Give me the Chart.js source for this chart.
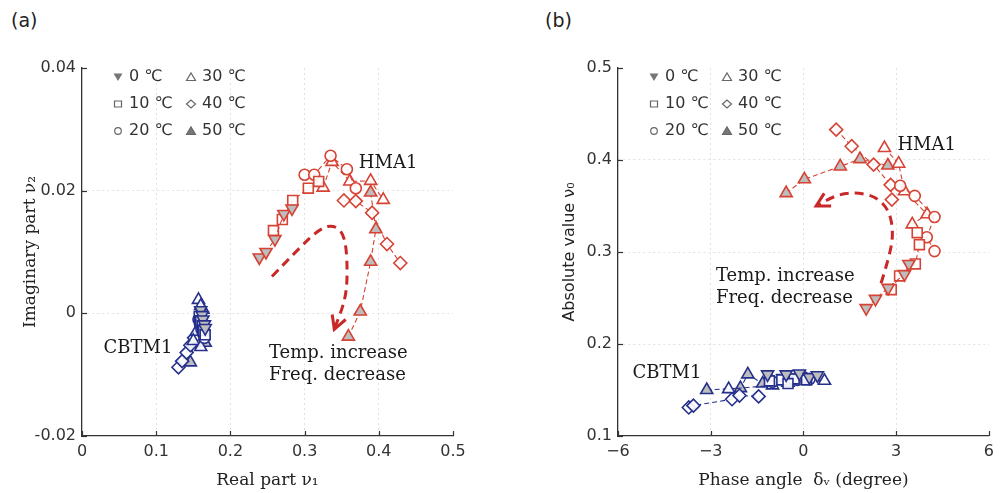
<!DOCTYPE html>
<html>
<head>
<meta charset="utf-8">
<script src="https://cdn.jsdelivr.net/npm/chart.js@4.4.0/dist/chart.umd.min.js"></script>
<style>
  html, body { margin: 0; padding: 0; background: #fff; }
  #wrap { position: relative; width: 1000px; height: 493px; overflow: hidden; }
  .panel { position: absolute; top: 0; width: 500px; height: 493px; }
  .tag { position: absolute; top: 9px; font: 19px "DejaVu Sans", sans-serif; color: #222; }
</style>
</head>
<body>
<div id="wrap">
  <div class="tag" style="left:11px">(a)</div>
  <div class="tag" style="left:545px">(b)</div>
  <div class="panel" style="left:0"><canvas id="chartA" width="500" height="493"></canvas></div>
  <div class="panel" style="left:500px"><canvas id="chartB" width="500" height="493"></canvas></div>
</div>
<script>
// temperatures (legend)
const tempLabels = ['0 ℃', '10 ℃', '20 ℃', '30 ℃', '40 ℃', '50 ℃'];

// panel (a): [real part v1, imaginary part v2]
const hmaA_0C  = [[0.239, 0.0091], [0.248, 0.0100], [0.260, 0.0121], [0.272, 0.0162], [0.283, 0.0171]];
const hmaA_10C = [[0.258, 0.0135], [0.270, 0.0153], [0.284, 0.0184], [0.305, 0.0204], [0.319, 0.0215]];
const hmaA_20C = [[0.300, 0.0226], [0.313, 0.0226], [0.335, 0.0257], [0.357, 0.0235], [0.369, 0.0204]];
const hmaA_30C = [[0.325, 0.0205], [0.337, 0.0247], [0.361, 0.0215], [0.389, 0.0216], [0.406, 0.0185]];
const hmaA_40C = [[0.353, 0.0184], [0.369, 0.0183], [0.391, 0.0164], [0.411, 0.0113], [0.429, 0.0082]];
const hmaA_50C = [[0.389, 0.0197], [0.396, 0.0137], [0.389, 0.0084], [0.375, 0.0003], [0.359, -0.0038]];

const cbtA_0C  = [[0.160, 0.0005], [0.162, -0.0003], [0.163, -0.0010], [0.165, -0.0018], [0.166, -0.0024]];
const cbtA_10C = [[0.158, -0.0005], [0.160, -0.0012], [0.162, -0.0020], [0.164, -0.0028], [0.166, -0.0035]];
const cbtA_20C = [[0.157, -0.0010], [0.159, -0.0018], [0.161, -0.0026], [0.163, -0.0033], [0.165, -0.0040]];
const cbtA_30C = [[0.157, 0.0022], [0.160, 0.0012], [0.154, -0.0030], [0.150, -0.0045], [0.160, -0.0055]];
const cbtA_40C = [[0.130, -0.0088], [0.135, -0.0078], [0.141, -0.0064], [0.146, -0.0052], [0.151, -0.0040]];
const cbtA_50C = [[0.146, -0.0080], [0.150, -0.0050], [0.166, -0.0048], [0.164, -0.0024], [0.163, 0.0006]];

// panel (b): [phase angle, absolute value v0]
const hmaB_0C  = [[2.03, 0.239], [2.33, 0.249], [2.74, 0.261], [3.27, 0.276], [3.41, 0.287]];
const hmaB_10C = [[2.84, 0.259], [3.11, 0.274], [3.62, 0.287], [3.75, 0.308], [3.68, 0.321]];
const hmaB_20C = [[3.13, 0.372], [3.60, 0.361], [4.24, 0.338], [3.99, 0.316], [4.24, 0.301]];
const hmaB_30C = [[2.62, 0.413], [3.08, 0.396], [3.27, 0.366], [4.00, 0.341], [3.52, 0.330]];
const hmaB_40C = [[1.06, 0.433], [1.56, 0.415], [2.27, 0.395], [2.82, 0.373], [2.86, 0.357]];
const hmaB_50C = [[-0.56, 0.364], [0.03, 0.379], [1.19, 0.393], [1.83, 0.401], [2.73, 0.394]];

const cbtB_0C  = [[-1.16, 0.167], [-0.56, 0.167], [-0.13, 0.168], [0.19, 0.164], [0.45, 0.166]];
const cbtB_10C = [[-1.10, 0.160], [-0.70, 0.161], [-0.30, 0.162], [0.10, 0.161], [-0.50, 0.157]];
const cbtB_20C = [[-1.00, 0.159], [-0.50, 0.160], [-0.20, 0.161], [0.20, 0.162], [0.00, 0.164]];
const cbtB_30C = [[-2.42, 0.151], [-1.00, 0.155], [-0.50, 0.158], [0.00, 0.161], [0.68, 0.160]];
const cbtB_40C = [[-3.71, 0.131], [-3.56, 0.133], [-2.31, 0.140], [-2.07, 0.144], [-1.45, 0.143]];
const cbtB_50C = [[-3.13, 0.150], [-2.04, 0.152], [-1.80, 0.167], [-1.32, 0.157], [-0.02, 0.162]];

// trend arrows (data units)
const arrowA = [[0.256, 0.0060], [0.290, 0.0103], [0.321, 0.0139], [0.341, 0.0144], [0.355, 0.0125], [0.358, 0.0065], [0.355, 0.0022], [0.340, -0.0026]];
const arrowB = [[2.51, 0.266], [2.78, 0.295], [2.91, 0.320], [2.78, 0.345], [2.35, 0.360], [1.71, 0.365], [1.06, 0.362], [0.41, 0.350]];

const RED = 'rgb(214, 66, 52)';
const BLUE = 'rgb(38, 48, 140)';
const GRAY_FILL = '#bdbdbd';

const markers = [
  { style: 'triangle', rot: 180, filled: true, r: 7 },
  { style: 'rect', rot: 0, filled: false, r: 7 },
  { style: 'circle', rot: 0, filled: false, r: 5.5 },
  { style: 'triangle', rot: 0, filled: false, r: 7 },
  { style: 'rectRot', rot: 0, filled: false, r: 6.5 },
  { style: 'triangle', rot: 0, filled: true, r: 7 }
];

function makeSets(seriesList, color) {
  return seriesList.map((pts, i) => {
    const m = markers[i];
    return {
      label: tempLabels[i],
      data: pts.map(p => ({ x: p[0], y: p[1] })),
      showLine: true,
      borderColor: color,
      borderWidth: 1.1,
      borderDash: [5, 3],
      pointStyle: m.style,
      pointRotation: m.rot,
      pointRadius: m.r,
      pointHoverRadius: m.r,
      pointBorderWidth: 1.6,
      pointBorderColor: color,
      pointBackgroundColor: m.filled ? GRAY_FILL : 'rgba(255,255,255,0.9)',
      clip: false
    };
  });
}

function drawLegendSymbol(ctx, i, x, y) {
  ctx.save();
  ctx.lineWidth = 1.2;
  ctx.strokeStyle = '#666';
  ctx.fillStyle = '#777';
  ctx.beginPath();
  if (i === 0) { ctx.moveTo(x - 4.5, y - 3.5); ctx.lineTo(x + 4.5, y - 3.5); ctx.lineTo(x, y + 4); ctx.closePath(); ctx.fill(); }
  else if (i === 1) { ctx.rect(x - 3.5, y - 3, 7, 6); ctx.stroke(); }
  else if (i === 2) { ctx.arc(x, y, 3.3, 0, Math.PI * 2); ctx.stroke(); }
  else if (i === 3) { ctx.moveTo(x - 4.5, y + 3.5); ctx.lineTo(x + 4.5, y + 3.5); ctx.lineTo(x, y - 4); ctx.closePath(); ctx.stroke(); }
  else if (i === 4) { ctx.moveTo(x - 4.5, y); ctx.lineTo(x, y - 4); ctx.lineTo(x + 4.5, y); ctx.lineTo(x, y + 4); ctx.closePath(); ctx.stroke(); }
  else { ctx.moveTo(x - 4.5, y + 3.5); ctx.lineTo(x + 4.5, y + 3.5); ctx.lineTo(x, y - 4); ctx.closePath(); ctx.fill(); ctx.stroke(); }
  ctx.restore();
}

function decorPlugin(id, arrowPts, notes) {
  return {
    id: id,
    afterDraw(chart) {
      const ctx = chart.ctx;
      const xs = chart.scales.x, ys = chart.scales.y;
      const area = chart.chartArea;

      // inward tick marks
      ctx.save();
      ctx.strokeStyle = '#333';
      ctx.lineWidth = 1.2;
      xs.ticks.forEach(t => {
        const px = Math.round(xs.getPixelForValue(t.value)) + 0.5;
        ctx.beginPath(); ctx.moveTo(px, area.bottom); ctx.lineTo(px, area.bottom - 5); ctx.stroke();
      });
      ys.ticks.forEach(t => {
        const py = Math.round(ys.getPixelForValue(t.value)) + 0.5;
        ctx.beginPath(); ctx.moveTo(area.left, py); ctx.lineTo(area.left + 5, py); ctx.stroke();
      });
      ctx.restore();

      // dashed trend arrow
      const p = arrowPts.map(a => [xs.getPixelForValue(a[0]), ys.getPixelForValue(a[1])]);
      ctx.save();
      ctx.strokeStyle = 'rgb(200, 40, 40)';
      ctx.lineWidth = 3;
      ctx.setLineDash([9, 6]);
      ctx.beginPath();
      ctx.moveTo(p[0][0], p[0][1]);
      for (let i = 1; i < p.length - 1; i++) {
        const mx = (p[i][0] + p[i + 1][0]) / 2, my = (p[i][1] + p[i + 1][1]) / 2;
        ctx.quadraticCurveTo(p[i][0], p[i][1], mx, my);
      }
      const end = p[p.length - 1], prev = p[p.length - 2];
      ctx.lineTo(end[0], end[1]);
      ctx.stroke();
      ctx.setLineDash([]);
      const ang = Math.atan2(end[1] - prev[1], end[0] - prev[0]);
      ctx.beginPath();
      ctx.moveTo(end[0] - 15 * Math.cos(ang - 0.5), end[1] - 15 * Math.sin(ang - 0.5));
      ctx.lineTo(end[0], end[1]);
      ctx.lineTo(end[0] - 15 * Math.cos(ang + 0.5), end[1] - 15 * Math.sin(ang + 0.5));
      ctx.stroke();
      ctx.restore();

      // text notes
      ctx.save();
      ctx.fillStyle = '#1a1a1a';
      ctx.font = '18px "DejaVu Serif", serif';
      ctx.textBaseline = 'middle';
      ctx.textAlign = 'left';
      notes.forEach(n => ctx.fillText(n.text, xs.getPixelForValue(n.x), ys.getPixelForValue(n.y)));
      ctx.restore();

      // legend (two columns)
      ctx.save();
      ctx.font = '16px "DejaVu Sans", sans-serif';
      ctx.fillStyle = '#333';
      ctx.textBaseline = 'middle';
      const rowsY = [area.top + 9, area.top + 36, area.top + 63];
      tempLabels.forEach((lab, i) => {
        const col = Math.floor(i / 3), row = i % 3;
        const sx = area.left + (col === 0 ? 36 : 109);
        const y = rowsY[row];
        drawLegendSymbol(ctx, i, sx, y);
        ctx.fillText(lab, sx + 11, y);
      });
      ctx.restore();
    }
  };
}

function gridColor(c) {
  const n = c.scale.ticks.length;
  return (c.index > 0 && c.index < n - 1) ? '#e2e2e2' : 'rgba(0,0,0,0)';
}

function baseScale(min, max, step, titleText, titleFont, fmt, fitFn) {
  return {
    type: 'linear',
    min: min, max: max,
    ticks: {
      stepSize: step,
      color: '#333',
      font: { family: 'DejaVu Sans', size: 16 },
      padding: 6,
      callback: fmt
    },
    grid: { color: gridColor, drawTicks: false, lineWidth: 1 },
    border: { display: true, color: '#333', width: 1.3, dash: [2, 3] },
    title: { display: true, text: titleText, color: '#222', font: titleFont, padding: 0 },
    afterFit: fitFn
  };
}

const serifTitle = { family: 'DejaVu Serif', size: 17 };
const sansTitle = { family: 'DejaVu Sans', size: 16 };

const chartA = new Chart(document.getElementById('chartA').getContext('2d'), {
  type: 'scatter',
  data: { datasets: makeSets([hmaA_0C, hmaA_10C, hmaA_20C, hmaA_30C, hmaA_40C, hmaA_50C], RED)
    .concat(makeSets([cbtA_0C, cbtA_10C, cbtA_20C, cbtA_30C, cbtA_40C, cbtA_50C], BLUE)) },
  options: {
    responsive: false,
    devicePixelRatio: 1,
    animation: false,
    layout: { padding: { left: 20, right: 47, top: 68, bottom: 2 } },
    plugins: { legend: { display: false }, tooltip: { enabled: false } },
    scales: {
      x: baseScale(0, 0.5, 0.1, 'Real part ν₁', serifTitle,
        v => String(Math.round(v * 10) / 10), s => { s.height = 55; }),
      y: baseScale(-0.02, 0.04, 0.02, 'Imaginary part ν₂', serifTitle,
        v => String(Math.round(v * 100) / 100), s => { s.width = 62; })
    }
  },
  plugins: [decorPlugin('decorA', arrowA, [
    { text: 'HMA1', x: 0.373, y: 0.0245 },
    { text: 'CBTM1', x: 0.029, y: -0.0057 },
    { text: 'Temp. increase', x: 0.252, y: -0.0065 },
    { text: 'Freq. decrease', x: 0.252, y: -0.0101 }
  ])]
});

const chartB = new Chart(document.getElementById('chartB').getContext('2d'), {
  type: 'scatter',
  data: { datasets: makeSets([hmaB_0C, hmaB_10C, hmaB_20C, hmaB_30C, hmaB_40C, hmaB_50C], RED)
    .concat(makeSets([cbtB_0C, cbtB_10C, cbtB_20C, cbtB_30C, cbtB_40C, cbtB_50C], BLUE)) },
  options: {
    responsive: false,
    devicePixelRatio: 1,
    animation: false,
    layout: { padding: { left: 60, right: 11, top: 68, bottom: 2 } },
    plugins: { legend: { display: false }, tooltip: { enabled: false } },
    scales: {
      x: baseScale(-6, 6, 3, 'Phase angle  δᵥ (degree)', serifTitle,
        v => (v < 0 ? '−' + Math.abs(v) : String(v)), s => { s.height = 55; }),
      y: baseScale(0.1, 0.5, 0.1, 'Absolute value ν₀', sansTitle,
        v => String(Math.round(v * 10) / 10), s => { s.width = 58; })
    }
  },
  plugins: [decorPlugin('decorB', arrowB, [
    { text: 'HMA1', x: 3.04, y: 0.416 },
    { text: 'CBTM1', x: -5.53, y: 0.168 },
    { text: 'Temp. increase', x: -2.83, y: 0.274 },
    { text: 'Freq. decrease', x: -2.83, y: 0.250 }
  ])]
});
</script>
</body>
</html>
